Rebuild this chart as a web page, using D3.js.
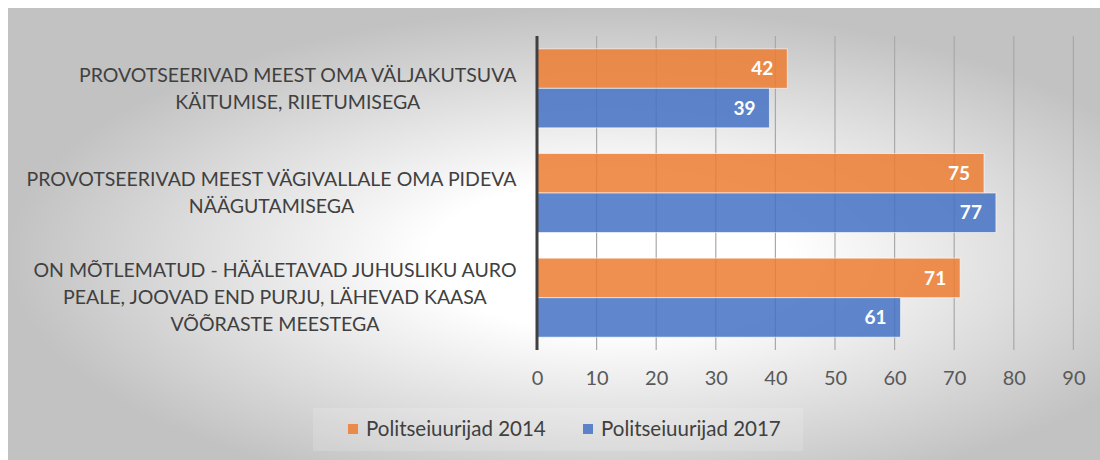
<!DOCTYPE html>
<html>
<head>
<meta charset="utf-8">
<script src="https://cdn.jsdelivr.net/npm/d3@7"></script>
<style>
  body { margin: 0; background: #fff; }
  svg text { font-family: Lato, "Noto Sans", sans-serif; }
</style>
</head>
<body>
<svg width="1100" height="460"></svg>
<script>
// categories top to bottom, each label split into its lines
var categories = [
  ["PROVOTSEERIVAD MEEST OMA VÄLJAKUTSUVA", "KÄITUMISE, RIIETUMISEGA"],
  ["PROVOTSEERIVAD MEEST VÄGIVALLALE OMA PIDEVA", "NÄÄGUTAMISEGA"],
  ["ON MÕTLEMATUD - HÄÄLETAVAD JUHUSLIKU AURO", "PEALE, JOOVAD END PURJU, LÄHEVAD KAASA", "VÕÕRASTE MEESTEGA"]
]
var seriesNames = ["Politseiuurijad 2014", "Politseiuurijad 2017"]
var values2014 = [42, 75, 71]
var values2017 = [39, 77, 61]
var xTicks = [0, 10, 20, 30, 40, 50, 60, 70, 80, 90]
var colors = ["#ED7D31", "#4472C4"]

var svg = d3.select("svg")

// background with the radial fade
var defs = svg.append("defs")
var grad = defs.append("radialGradient")
  .attr("id", "bg")
  .attr("cx", 0.55).attr("cy", 0.55)
  .attr("r", 0.55)
  .attr("fx", 0.55).attr("fy", 0.55)
grad.append("stop").attr("offset", "0%").attr("stop-color", "#ffffff")
grad.append("stop").attr("offset", "30%").attr("stop-color", "#ffffff")
grad.append("stop").attr("offset", "100%").attr("stop-color", "#c2c2c2")

svg.append("rect")
   .attr("x", 8).attr("y", 8)
   .attr("width", 1092).attr("height", 452)
   .attr("fill", "url(#bg)")

var plot = {left: 537, right: 1073.4, top: 36, bottom: 350}

var x = d3.scaleLinear()
          .domain([0, 90])
          .range([plot.left, plot.right])

var y = d3.scaleBand()
          .domain(d3.range(categories.length))
          .range([plot.top, plot.bottom])
          .paddingInner(0.245)
          .paddingOuter(0.1225)

var y2 = d3.scaleBand()
           .domain([0, 1])
           .range([0, y.bandwidth()])

// gridlines
svg.append("g").attr("class", "grid")
   .selectAll("line")
   .data(xTicks.slice(1))
   .enter()
   .append("line")
   .attr("x1", function(d) { return x(d); })
   .attr("x2", function(d) { return x(d); })
   .attr("y1", plot.top)
   .attr("y2", plot.bottom)
   .attr("stroke", "#a9a9a9")
   .attr("stroke-width", 1.2)

// bars
var rows = categories.map(function(c, i) {
  return {i: i, vals: [values2014[i], values2017[i]]}
})

var groups = svg.append("g").selectAll("g")
  .data(rows)
  .enter()
  .append("g")
  .attr("transform", function(d) { return "translate(0," + y(d.i) + ")"; })

groups.selectAll("rect")
  .data(function(d) { return d.vals; })
  .enter()
  .append("rect")
  .attr("x", x(0))
  .attr("y", function(d, j) { return y2(j); })
  .attr("width", function(d) { return x(d) - x(0); })
  .attr("height", y2.bandwidth())
  .attr("fill", function(d, j) { return colors[j]; })
  .attr("fill-opacity", 0.85)
  .attr("stroke", "#ffffff")
  .attr("stroke-opacity", 0.6)
  .attr("stroke-width", 1)

groups.selectAll("text")
  .data(function(d) { return d.vals; })
  .enter()
  .append("text")
  .attr("x", function(d) { return x(d) - 14; })
  .attr("y", function(d, j) { return y2(j) + y2.bandwidth() / 2; })
  .attr("dy", "0.35em")
  .attr("text-anchor", "end")
  .attr("fill", "#ffffff")
  .attr("font-weight", "bold")
  .attr("font-size", "19px")
  .text(function(d) { return d; })

// axis line at zero
svg.append("line")
   .attr("x1", x(0)).attr("x2", x(0))
   .attr("y1", plot.top).attr("y2", plot.bottom)
   .attr("stroke", "#404040")
   .attr("stroke-width", 3)

// x axis labels
var xAxis = d3.axisBottom(x)
              .tickValues(xTicks)
              .tickSize(0)
              .tickPadding(0)

var ax = svg.append("g")
   .attr("transform", "translate(0," + 371 + ")")
   .call(xAxis)
ax.select(".domain").remove()
ax.selectAll("text")
  .attr("font-size", "20px")
  .attr("font-family", "Lato, sans-serif")
  .attr("fill", "#595959")

// category labels, block aligned right and lines centred inside it
var labelRight = 516.5
var lineH = 27
var catG = svg.append("g")
categories.forEach(function(lines, i) {
  var g = catG.append("g")
  var texts = g.selectAll("text")
    .data(lines)
    .enter()
    .append("text")
    .attr("font-size", "19.5px")
    .attr("fill", "#404040")
    .attr("text-anchor", "middle")
    .text(function(d) { return d; })
  var maxW = 0
  texts.each(function() { maxW = Math.max(maxW, this.getComputedTextLength()); })
  var cy = y(i) + y.bandwidth() / 2
  texts.attr("x", labelRight - maxW / 2)
       .attr("y", function(d, k) { return cy + (k - (lines.length - 1) / 2) * lineH; })
       .attr("dy", "0.35em")
})

// legend
svg.append("rect")
   .attr("x", 313).attr("y", 408)
   .attr("width", 490).attr("height", 43)
   .attr("fill", "#ffffff")
   .attr("fill-opacity", 0.15)

var legendX = [348, 583]
var leg = svg.append("g").selectAll("g")
  .data(seriesNames)
  .enter()
  .append("g")
  .attr("transform", function(d, j) { return "translate(" + legendX[j] + ",424)"; })

leg.append("rect")
   .attr("width", 10).attr("height", 10)
   .attr("fill", function(d, j) { return colors[j]; })
   .attr("fill-opacity", 0.85)

leg.append("text")
   .attr("x", 18).attr("y", 5)
   .attr("dy", "0.35em")
   .attr("font-size", "20.5px")
   .attr("fill", "#404040")
   .text(function(d) { return d; })
</script>
</body>
</html>
